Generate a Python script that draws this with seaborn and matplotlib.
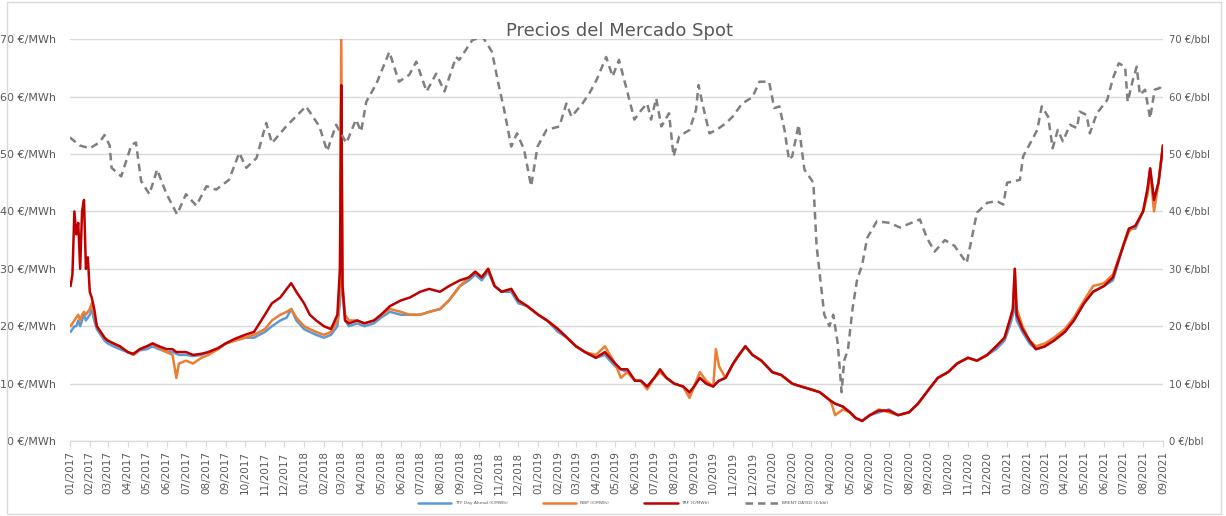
import pandas as pd
import matplotlib
matplotlib.use('Agg')
import matplotlib.pyplot as plt
import matplotlib.dates as mdates
from matplotlib.patches import Rectangle
import seaborn as sns

# Datos
gas_dates = [
    '2017-01-02', '2017-01-05', '2017-01-08', '2017-01-11', '2017-01-14', '2017-01-17', '2017-01-20',
    '2017-01-23', '2017-01-26', '2017-01-29', '2017-02-01', '2017-02-04', '2017-02-08', '2017-02-12',
    '2017-02-18', '2017-02-24', '2017-03-01', '2017-03-10', '2017-03-20', '2017-04-01', '2017-04-10',
    '2017-04-20', '2017-05-01', '2017-05-10', '2017-05-20', '2017-06-01', '2017-06-10', '2017-06-16',
    '2017-06-20', '2017-07-01', '2017-07-12', '2017-07-25', '2017-08-05', '2017-08-20', '2017-09-01',
    '2017-09-15', '2017-10-01', '2017-10-15', '2017-11-01', '2017-11-12', '2017-11-25', '2017-12-05',
    '2017-12-12', '2017-12-20', '2018-01-01', '2018-01-10', '2018-01-20', '2018-02-01', '2018-02-12',
    '2018-02-22', '2018-02-26', '2018-02-28', '2018-03-02', '2018-03-06', '2018-03-12', '2018-03-25',
    '2018-04-05', '2018-04-20', '2018-05-01', '2018-05-15', '2018-06-01', '2018-06-15', '2018-07-01',
    '2018-07-15', '2018-08-01', '2018-08-15', '2018-09-01', '2018-09-15', '2018-09-25', '2018-10-05',
    '2018-10-15', '2018-10-25', '2018-11-05', '2018-11-20', '2018-12-01', '2018-12-15', '2019-01-01',
    '2019-01-15', '2019-02-01', '2019-02-15', '2019-03-01', '2019-03-15', '2019-04-01', '2019-04-15',
    '2019-05-01', '2019-05-10', '2019-05-20', '2019-06-01', '2019-06-10', '2019-06-20', '2019-07-01',
    '2019-07-10', '2019-07-20', '2019-08-01', '2019-08-15', '2019-08-25', '2019-09-01', '2019-09-10',
    '2019-09-20', '2019-10-01', '2019-10-05', '2019-10-10', '2019-10-20', '2019-11-01', '2019-11-10',
    '2019-11-20', '2019-12-01', '2019-12-15', '2020-01-01', '2020-01-15', '2020-02-01', '2020-02-15',
    '2020-03-01', '2020-03-15', '2020-04-01', '2020-04-08', '2020-04-20', '2020-05-01', '2020-05-10',
    '2020-05-20', '2020-06-01', '2020-06-15', '2020-07-01', '2020-07-15', '2020-08-01', '2020-08-15',
    '2020-09-01', '2020-09-15', '2020-10-01', '2020-10-15', '2020-11-01', '2020-11-15', '2020-12-01',
    '2020-12-15', '2020-12-28', '2021-01-05', '2021-01-10', '2021-01-13', '2021-01-16', '2021-01-25',
    '2021-02-05', '2021-02-15', '2021-03-01', '2021-03-15', '2021-04-01', '2021-04-15', '2021-05-01',
    '2021-05-15', '2021-06-01', '2021-06-15', '2021-07-01', '2021-07-10', '2021-07-20', '2021-08-01',
    '2021-08-08', '2021-08-12', '2021-08-18', '2021-08-25', '2021-09-01',
]
ttf = [
    19, 19.5, 20, 20, 21, 20, 21, 22, 21, 21.5, 22, 23, 21, 19.5, 18.5, 17.5, 17, 16.5, 16, 15.5, 15,
    15.8, 16, 16.5, 16, 15.5, 15.5, 15.2, 15, 15, 14.8, 15, 15.5, 16, 17, 17.5, 18, 18, 19, 20, 21,
    21.5, 23, 21, 19.5, 19, 18.5, 18, 18.5, 20, 24, 30, 26, 21, 20, 20.5, 20, 20.5, 21.5, 22.5, 22,
    22, 22, 22.5, 23, 24.5, 27, 28, 29, 28, 29.5, 27, 26, 26, 24, 23.5, 22, 21, 19, 18, 16.5, 15.5,
    14.5, 15, 13, 12.5, 12, 10.5, 10.5, 9.5, 11, 12, 11, 10, 9.5, 8, 9.5, 11, 10, 9.5, 10, 10.5, 11,
    13.5, 15, 16.5, 15, 14, 12, 11.5, 10, 9.5, 9, 8.5, 7, 6.5, 6, 5, 4, 3.5, 4.5, 5, 5.5, 4.5, 5, 6.5,
    9, 11, 12, 13.5, 14.5, 14, 15, 16, 17.5, 20, 22, 24, 21, 19, 17, 16, 16.5, 17.5, 19, 21, 24, 26,
    27, 28, 34, 37, 37, 40, 44, 47.5, 42, 45, 51.5,
]
nbp = [
    20, 20.5, 21, 21.5, 22, 21, 22, 22.5, 22, 22.5, 23, 24, 22, 20, 19, 18, 17.5, 17, 16.5, 15.5, 15,
    16, 16.5, 17, 16.2, 15.5, 15, 11, 13.5, 14, 13.5, 14.5, 15, 16, 17, 17.5, 18, 18.5, 19.5, 21, 22,
    22.5, 23, 21.5, 20, 19.5, 19, 18.5, 19, 21, 26, 72, 27, 22, 21, 21, 20.5, 21, 22, 23, 22.5, 22,
    22, 22.5, 23, 24.5, 27, 28.5, 29.5, 28.5, 30, 27, 26, 26.5, 24.5, 23.5, 22, 21, 19.5, 18, 16.5,
    15.5, 15, 16.5, 13.5, 11, 12, 10.5, 10.5, 9, 11, 12, 11, 10, 9.5, 7.5, 9.5, 12, 10.5, 9.5, 16, 13,
    11, 13.5, 15, 16.5, 15, 14, 12, 11.5, 10, 9.5, 9, 8.5, 7, 4.5, 5.5, 5, 4, 3.5, 4.5, 5.5, 5, 4.5, 5,
    6.5, 9, 11, 12, 13.5, 14.5, 14, 15, 16.5, 18, 21, 23, 30, 23, 20, 17.5, 16.5, 17, 18, 19.5, 21.5,
    24.5, 27, 27.5, 29, 34, 36.5, 37.5, 40, 43, 47, 40, 45, 51.5,
]
trf = [
    27, 29, 40, 36, 38, 30, 40, 42, 30, 32, 26, 25, 23, 20, 19, 18, 17.5, 17, 16.5, 15.5, 15.2, 16,
    16.5, 17, 16.5, 16, 16, 15.5, 15.5, 15.5, 15, 15.2, 15.5, 16.2, 17, 17.8, 18.5, 19, 22, 24, 25,
    26.5, 27.5, 26, 24, 22, 21, 20, 19.5, 22, 30, 62, 27, 21, 20.5, 21, 20.5, 21, 22, 23.5, 24.5, 25,
    26, 26.5, 26, 27, 28, 28.5, 29.5, 28.5, 30, 27, 26, 26.5, 24.5, 23.5, 22, 21, 19.5, 18, 16.5,
    15.5, 14.5, 15.5, 13.5, 12.5, 12.5, 10.5, 10.5, 9.5, 11, 12.5, 11, 10, 9.5, 8.5, 9.5, 11, 10, 9.5,
    10, 10.5, 11, 13.5, 15, 16.5, 15, 14, 12, 11.5, 10, 9.5, 9, 8.5, 7, 6.5, 6, 5, 4, 3.5, 4.5, 5.3,
    5.3, 4.5, 5, 6.5, 9, 11, 12, 13.5, 14.5, 14, 15, 16.5, 18, 21, 23, 30, 22, 19.5, 17.5, 16, 16.5,
    17.5, 19, 21, 24, 26, 27, 28.5, 34, 37, 37.5, 40, 44, 47.5, 42, 45, 51.5,
]

brent_dates = [
    '2017-01-01', '2017-01-16', '2017-02-01', '2017-02-16', '2017-02-24', '2017-03-04', '2017-03-07',
    '2017-03-22', '2017-04-07', '2017-04-14', '2017-04-22', '2017-05-05', '2017-05-17', '2017-05-31',
    '2017-06-17', '2017-07-01', '2017-07-17', '2017-08-02', '2017-08-17', '2017-09-06', '2017-09-22',
    '2017-10-03', '2017-10-19', '2017-11-03', '2017-11-12', '2017-12-04', '2018-01-04', '2018-01-25',
    '2018-02-06', '2018-02-20', '2018-03-08', '2018-03-23', '2018-03-31', '2018-04-08', '2018-04-24',
    '2018-05-14', '2018-05-29', '2018-06-14', '2018-06-25', '2018-07-11', '2018-07-26', '2018-08-08',
    '2018-08-26', '2018-08-31', '2018-09-20', '2018-10-06', '2018-10-21', '2018-11-01', '2018-11-09',
    '2018-11-20', '2018-11-29', '2018-12-10', '2018-12-21', '2018-12-31', '2019-01-14', '2019-02-03',
    '2019-02-14', '2019-02-22', '2019-03-11', '2019-03-22', '2019-04-02', '2019-04-17', '2019-04-27',
    '2019-05-07', '2019-05-18', '2019-05-31', '2019-06-11', '2019-06-20', '2019-06-26', '2019-07-04',
    '2019-07-12', '2019-07-24', '2019-07-31', '2019-08-09', '2019-08-25', '2019-09-04', '2019-09-08',
    '2019-09-14', '2019-09-25', '2019-10-06', '2019-10-21', '2019-10-31', '2019-11-15', '2019-12-01',
    '2019-12-12', '2019-12-27', '2020-01-04', '2020-01-12', '2020-01-20', '2020-01-27', '2020-02-01',
    '2020-02-11', '2020-02-20', '2020-03-05', '2020-03-10', '2020-03-16', '2020-03-22', '2020-03-30',
    '2020-04-05', '2020-04-12', '2020-04-18', '2020-04-22', '2020-04-28', '2020-05-05', '2020-05-12',
    '2020-05-20', '2020-05-28', '2020-06-12', '2020-07-02', '2020-07-18', '2020-08-18', '2020-08-29',
    '2020-09-10', '2020-09-26', '2020-10-11', '2020-10-30', '2020-11-15', '2020-12-01', '2020-12-16',
    '2020-12-26', '2021-01-01', '2021-01-21', '2021-01-26', '2021-02-09', '2021-02-17', '2021-02-24',
    '2021-03-06', '2021-03-13', '2021-03-21', '2021-03-29', '2021-04-09', '2021-04-20', '2021-04-24',
    '2021-05-05', '2021-05-10', '2021-05-21', '2021-06-06', '2021-06-15', '2021-06-24', '2021-07-04',
    '2021-07-08', '2021-07-16', '2021-07-22', '2021-07-27', '2021-08-04', '2021-08-12', '2021-08-19',
    '2021-08-27', '2021-08-31',
]
brent = [
    52.9, 51.5, 51, 52, 53.3, 51.5, 47.6, 46.1, 51.6, 52, 45.3, 43, 47.3, 43.2, 39.5, 43, 41, 44.4,
    43.8, 45.5, 50.2, 47.6, 49.3, 55.4, 51.9, 54.8, 58.3, 54.8, 50.5, 55.1, 51.9, 56, 53.9, 59.1, 62.3,
    67.8, 62.6, 63.8, 66.1, 60.9, 64, 60.9, 66.9, 66.4, 69.8, 70.5, 67.8, 61.7, 57.7, 51.3, 53.6, 50.8,
    44.4, 51.3, 54.2, 54.8, 58.8, 56.5, 58.8, 60.6, 62.9, 66.9, 63.5, 66.4, 61.7, 56, 57.7, 58.8, 56,
    59.7, 54.8, 57.1, 49.6, 53.1, 54.2, 57.7, 62, 58.8, 53.6, 54.2, 55.4, 56.5, 58.8, 59.9, 62.6, 62.6,
    58, 58.3, 54.2, 49, 49.6, 55.1, 47.3, 45, 34, 28, 22, 20, 22, 17, 8.5, 14, 16, 23, 28, 30.7, 35.4,
    38.3, 38, 37.2, 38.6, 35.4, 33, 35, 34, 31, 39.8, 41.5, 41.8, 41.2, 45, 45.5, 49.6, 52.5, 54.2,
    58.3, 56.5, 51, 54.2, 52.2, 55.1, 54.5, 57.4, 56.8, 53.6, 57.1, 59.4, 63.2, 65.8, 65.2, 59.1, 62.9,
    65.2, 60.3, 61.2, 56.2, 61.2, 61.5, 62,
]

gas = pd.DataFrame({'fecha': pd.to_datetime(gas_dates), 'TTF': ttf, 'NBP': nbp, 'TRF': trf})
crudo = pd.DataFrame({'fecha': pd.to_datetime(brent_dates), 'BRENT': brent})

sns.set_style('white')
plt.rcParams['font.family'] = ['DejaVu Sans']
gris = '#595959'

fig = plt.figure(figsize=(12.26, 5.16), dpi=100)
ax = fig.add_axes([0.057, 0.1453, 0.8916, 0.7787])
ax2 = ax.twinx()

sns.lineplot(data=gas, x='fecha', y='TTF', ax=ax, color='#5B9BD5', lw=1.8, label='TTF Day Ahead (€/MWh)')
sns.lineplot(data=gas, x='fecha', y='NBP', ax=ax, color='#ED7D31', lw=1.8, label='NBP (€/MWh)')
sns.lineplot(data=gas, x='fecha', y='TRF', ax=ax, color='#C00000', lw=1.8, label='TRF (€/MWh)')
sns.lineplot(data=crudo, x='fecha', y='BRENT', ax=ax2, color='#7F7F7F', lw=1.8,
             linestyle=(0, (3, 2)), label='BRENT DATED (€/bbl)')

for a in (ax, ax2):
    a.set_ylim(0, 70)
    a.set_yticks(range(0, 71, 10))
    a.set_xlim(pd.Timestamp('2017-01-01'), pd.Timestamp('2021-09-01'))
    a.set_xlabel('')
    a.set_ylabel('')
    for s in a.spines.values():
        s.set_visible(False)
    a.spines['bottom'].set_visible(True)
    a.spines['bottom'].set_color('#D9D9D9')

ax.set_yticklabels([f'{v} €/MWh' for v in range(0, 71, 10)], fontsize=8, color=gris)
ax2.set_yticklabels([f'{v} €/bbl' for v in range(0, 71, 10)], fontsize=7.2, color=gris)
ax.tick_params(axis='y', length=0, pad=10)
ax2.tick_params(axis='y', length=0, pad=4)
ax.yaxis.grid(True, color='#D9D9D9', lw=1)
ax.set_axisbelow(True)

ax.xaxis.set_major_locator(mdates.MonthLocator())
ax.xaxis.set_major_formatter(mdates.DateFormatter('%m/%Y'))
ax.tick_params(axis='x', rotation=90, labelsize=7.5, labelcolor=gris, length=4, color='#D9D9D9',
               direction='out', bottom=True)

ax.get_legend().remove()
ax2.get_legend().remove()
h1, l1 = ax.get_legend_handles_labels()
h2, l2 = ax2.get_legend_handles_labels()
fig.legend(h1 + h2, l1 + l2, loc='center', bbox_to_anchor=(0.508, 0.025), ncol=4, frameon=False,
           fontsize=3.2, handlelength=7.5, handletextpad=0.8, columnspacing=8, labelcolor=gris)

fig.text(0.505, 0.94, 'Precios del Mercado Spot', ha='center', va='center', fontsize=13, color=gris)
fig.patches.append(Rectangle((0.006, 0.004), 0.99, 0.992, transform=fig.transFigure,
                             fill=False, edgecolor='#D9D9D9', lw=1))

fig.savefig('out.png', dpi=100)
